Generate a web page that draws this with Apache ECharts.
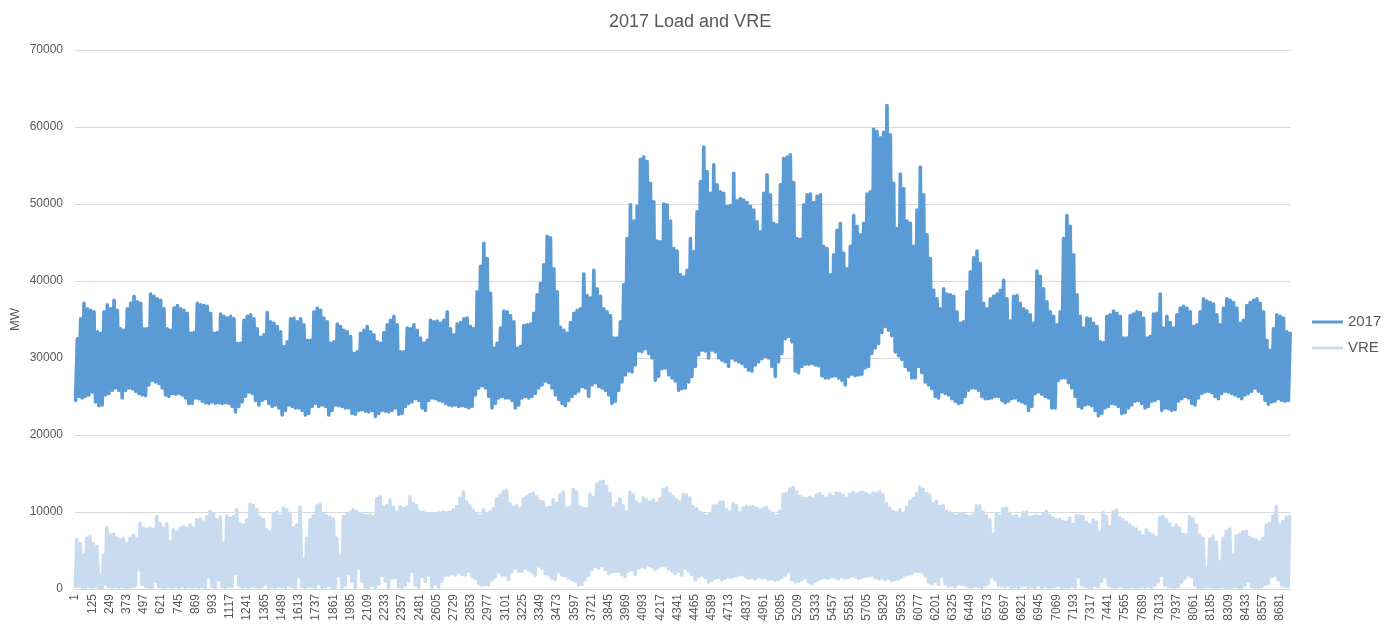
<!DOCTYPE html>
<html lang="en">
<head>
    <meta charset="UTF-8">
    <title>2017 Load and VRE</title>
    <script type="text/javascript" src="https://cdn.jsdelivr.net/npm/echarts@6/dist/echarts.min.js"></script>
    <style>
        html, body { margin: 0; padding: 0; background: #fff; }
    </style>
</head>
<body>
<div id="load_vre_chart" style="height:625px;width:1387px;"></div>
</body>

<script type="text/javascript">

    // daily peak / trough of the hourly load (MW), day 0 = Jan 1
    var loadHigh = [
        32500,35100,37100,36400,36200,36000,33400,33200,36000,36900,
        36400,37500,36200,33800,33600,36400,37100,38000,37300,37100,
        33800,33800,38300,38000,37700,37500,36400,33800,33600,36500,
        36800,36400,36200,35800,33200,33300,37100,36900,36800,36700,
        35800,33200,33300,35700,35400,35200,35400,35100,31900,31900,
        34900,35400,35600,35100,33800,32700,33000,35900,34700,34500,
        34100,33400,31500,32100,35100,35200,34700,35100,34300,32300,
        32300,36000,36500,36200,35200,34700,31900,32100,34400,34100,
        33600,33400,32800,30600,30800,33200,33600,34100,33400,33000,
        32100,31900,33300,34300,34900,35400,34300,30800,30800,33900,
        33800,34300,33600,32600,31900,32300,34900,34700,34800,34500,
        34900,36000,33800,33000,34400,34600,35100,35200,34100,33800,
        38600,41900,44900,42900,38400,31300,31900,33900,36100,36000,
        35500,34700,31300,31500,34200,34300,34400,35800,38200,39700,
        42100,45800,45600,41600,38600,34000,33600,33200,34600,35800,
        36200,36400,40900,38100,37800,41400,39000,38000,36400,36000,
        35500,32600,32600,34700,39500,45500,49900,47800,49700,55800,
        56100,55500,52700,50300,45200,45100,50000,49900,47800,44200,
        43900,40800,40500,41400,45500,43800,49000,52900,57400,54200,
        51400,55100,52500,51600,51400,49700,49800,54000,50400,50700,
        50500,50200,49700,49200,47700,46400,51400,53800,51200,47500,
        47300,52500,55900,56100,56400,52800,45500,45400,49900,51200,
        51300,50200,51000,51200,44500,44200,40800,43400,46600,47500,
        43600,41600,44500,48500,47100,46000,47500,51300,51600,59700,
        59400,58600,59300,62800,59000,52700,46800,53900,52000,47800,
        47500,44500,49200,54800,51200,46000,42900,38800,37700,36400,
        39000,38300,38200,38000,36000,34500,34700,38600,41200,43000,
        43900,42300,37100,36400,37700,38000,38300,38800,40100,37700,
        34800,38000,38100,37100,36400,36100,35600,34500,41300,40600,
        39000,37300,36000,35400,34300,36000,45500,48500,47100,43400,
        38200,35400,33900,35200,35100,34500,34100,32100,32000,35400,
        35600,36100,35800,35400,32600,32600,35500,35700,36000,35900,
        35200,32600,32800,35700,35800,38300,33900,35400,34600,33900,
        35600,36500,36700,36500,36000,34100,34300,36000,37700,37400,
        37200,37000,35600,34300,36500,37700,37500,37200,36500,34500,
        34900,36800,37200,37500,37700,37100,36000,32300,31000,33800,
        35600,35400,35200,33400,33200
    ];
    var loadLow = [
        24500,25000,24800,25000,25200,25600,24300,23800,23900,25200,
        25400,25800,26100,25800,24800,25800,26100,26000,25700,25400,
        25200,25100,26500,27100,26900,26700,26100,25200,25000,25400,
        25300,25400,25200,24800,24100,24100,24800,24700,24400,24200,
        24100,24300,24100,24200,24100,24200,24100,23700,23000,23700,
        24300,25000,25600,25400,24500,23900,24500,24700,24100,23700,
        23900,23500,22600,23200,23900,23700,23500,23500,23200,22600,
        22800,23700,24100,23700,23900,23700,22600,23200,23900,23800,
        23700,23500,23500,22800,22700,23200,23300,23100,23000,23200,
        22400,22800,23200,23100,23000,23200,23500,22700,22800,23700,
        24100,24300,24700,24500,23500,23200,24500,24800,24700,24500,
        24400,24100,23900,23800,23900,23700,23800,23700,23500,23700,
        25200,26100,26400,26100,25000,23500,24100,24800,25000,24800,
        24800,24500,23500,23900,24800,25000,24800,25000,25400,26100,
        26500,27000,26800,26100,25200,24600,24100,23800,24500,25000,
        25400,25700,26300,26100,25000,26500,26800,26300,26100,25800,
        25200,24100,24400,25800,26900,27800,28300,28200,29100,30900,
        30800,31200,30600,30000,27100,27600,28600,28700,27800,27400,
        27000,25800,26000,26100,26900,27600,28900,30400,31000,30900,
        30000,31000,30800,30000,29700,29500,28900,30000,29700,29500,
        29300,28900,28400,28300,29100,29500,29900,30200,30000,28900,
        27600,29500,30600,32500,32800,32100,28300,28100,28900,29200,
        29200,29300,29100,29000,27700,27400,27400,27600,27700,27400,
        27100,26500,27600,27900,27700,27800,27900,28700,28900,30600,
        31300,31900,33300,34100,33600,32900,30800,30300,29800,28900,
        28400,27400,27400,28900,28100,26900,26500,26000,25000,24800,
        25600,25400,25200,24700,24400,24100,24200,25000,25800,26100,
        26100,25800,25000,24700,24700,24800,25000,25000,24500,24200,
        24400,24700,24800,24500,24300,24100,23200,23700,25400,25600,
        25300,25000,24800,23500,23500,27100,27400,27400,26800,26100,
        25000,23700,23500,23900,24000,23800,23200,22500,22800,23500,
        23700,24100,24000,23700,22800,22900,23500,23900,24400,24500,
        24100,23500,23700,24400,24500,24700,23200,23500,23400,23200,
        23300,24400,24700,25000,24800,24100,23900,24800,25400,25600,
        25700,25500,25000,24700,25400,25700,25600,25400,25200,25000,
        24700,25200,25400,25700,26100,25700,25400,24500,24000,24300,
        24400,24700,24500,24400,24500
    ];

    // daily high / low of the VRE output (MW)
    var vreHigh = [
        6400,5900,4400,6600,6800,5900,5500,1800,4400,8000,
        7000,7100,6600,6400,6600,5900,6600,7000,6600,8500,
        7900,7800,7900,7800,9400,8500,7900,8500,6100,7700,
        7400,7900,8100,7900,8300,7900,9000,9100,8700,9400,
        10100,9800,9000,9300,5900,9500,9200,9400,10300,8500,
        8300,9000,11000,10800,10300,9300,9000,7700,7400,9800,
        10000,9500,10500,10300,9700,7900,8300,10600,3800,6600,
        9000,9500,10800,11000,9800,9500,9300,9100,6600,4200,
        9400,9700,10000,10300,10100,9800,9600,9500,9600,9400,
        11700,12000,10600,10800,11600,10600,10000,10700,10500,10600,
        12000,11100,10800,10000,10000,9800,9700,9800,9800,9900,
        10000,9900,10000,10300,10700,11800,12600,11300,10800,10300,
        9800,9500,10300,9800,10000,10400,11700,12200,12700,12800,
        11100,10600,10800,10400,11700,12000,12300,12400,12000,11400,
        11300,10500,10600,11600,11100,12200,12600,10500,10600,12900,
        12600,10700,10500,10400,12300,11900,13600,13900,14000,13300,
        12400,10500,11100,11700,10800,10000,12600,12200,11300,11000,
        11800,11600,11300,11600,11100,11700,12900,13100,12400,12000,
        11600,11300,12300,12200,11800,10700,10400,10000,9700,9500,
        9700,10800,10800,11300,11300,10300,10000,11100,10800,9900,
        10500,10700,10600,10700,10500,10300,10400,10600,10100,9800,
        9500,10100,12300,12400,13000,13200,12600,12000,11800,11700,
        11900,11700,12200,12400,12000,11800,12300,12000,12500,12400,
        12200,11800,12300,12600,12300,12500,12600,12400,12200,12500,
        12400,12600,12200,11100,10500,10100,9900,10300,9800,10600,
        11400,11700,12400,13200,12900,12400,12200,11100,11400,10700,
        10800,10100,9900,9700,9500,9700,9800,9500,9400,9600,
        10800,10800,10000,9500,9000,7100,9800,9500,10400,10500,
        9700,9400,9500,9100,9900,10000,9300,9400,9500,9400,
        9800,10100,9500,9200,9000,9100,8800,8700,9200,8400,
        9500,9500,9400,8700,8400,9000,8700,7400,9900,9400,
        8100,10000,10300,9200,9000,8700,8300,8000,7800,7400,
        6900,7700,7200,7000,6700,9300,9400,9000,8500,7900,
        8300,7900,7100,7000,9400,9100,8300,7000,6600,2700,
        6500,6800,6100,3500,6600,7500,7800,4400,6900,7100,
        7400,7500,6700,6500,6400,6100,6600,8300,8500,9500,
        10700,8300,8800,9300,9400
    ];
    var vreLow = [
        300,400,200,200,300,200,300,200,100,600,
        300,200,300,200,300,200,200,300,400,2500,
        600,300,200,200,1000,300,200,200,300,200,
        300,200,400,200,300,200,300,200,300,200,
        1600,300,200,1200,300,200,400,300,2000,500,
        200,300,200,400,300,200,300,600,200,300,
        200,400,300,200,500,300,200,1600,300,200,
        400,300,200,700,200,300,500,200,200,1800,
        200,500,2000,1000,200,2700,1000,200,200,500,
        200,700,1800,1000,200,1400,1500,300,200,500,
        1000,2300,500,200,1600,1000,1800,200,700,200,
        1000,1800,1800,2000,1800,2200,1900,1800,2300,1600,
        1400,700,500,600,500,1200,1600,2200,1800,1800,
        1200,2200,2700,2300,2300,2700,2500,2200,1800,3000,
        2700,2000,1800,1400,1200,2200,1800,1700,1400,1200,
        1000,500,600,1200,1800,2500,2900,2700,3100,2500,
        2000,2200,2300,2300,1900,1600,2300,2500,1900,2700,
        2900,2800,3100,2900,2500,2800,3100,3000,2600,2300,
        2000,2300,1800,2700,2300,1900,1200,1600,1800,1500,
        900,1100,1400,1500,1200,1400,1600,1500,1700,1800,
        1900,1600,1400,1500,1300,1600,1400,1500,1200,1300,
        1100,1200,1500,1800,2200,1200,900,1000,1200,1500,
        900,700,1000,1200,1400,1500,1400,1600,1500,1300,
        1600,1400,1500,1700,1600,1400,1500,1600,1700,1800,
        1500,1300,1400,1200,1400,1100,1200,1300,1500,1800,
        1900,2000,2300,2300,2200,1800,900,700,1000,600,
        1600,700,400,500,300,700,600,500,300,200,
        400,300,200,500,700,1500,1200,500,400,300,
        500,200,300,200,400,500,200,300,200,500,
        200,400,200,200,300,500,200,300,200,400,
        200,1600,500,300,200,200,500,300,1000,1600,
        500,300,200,300,400,200,200,300,200,200,
        300,200,400,200,500,900,1800,500,300,200,
        200,300,900,1400,1800,1600,500,200,200,200,
        300,200,200,200,300,200,200,200,300,200,
        200,500,1000,300,200,200,300,600,700,1600,
        1800,1200,500,400,300
    ];

    var yTicks = [0, 10000, 20000, 30000, 40000, 50000, 60000, 70000];

    // hour categories 1..8760, a label every 124 hours
    var hours = [];
    for (var h = 1; h <= 8760; h++) {
        hours.push(String(h));
    }

    // each day: trough in the night, peak in the afternoon (x = hour index)
    var loadData = [];
    var vreData = [];
    for (var d = 0; d < loadHigh.length; d++) {
        loadData.push([24 * d + 4, loadLow[d]]);
        loadData.push([24 * d + 17, loadHigh[d]]);
        vreData.push([24 * d + 3, vreLow[d]]);
        vreData.push([24 * d + 13, vreHigh[d]]);
    }

    var myChart = echarts.init(document.getElementById('load_vre_chart'));

    var option = {
        animation: false,
        textStyle: { fontFamily: 'Liberation Sans, Arial, sans-serif' },
        title: {
            text: '2017 Load and VRE',
            left: 604,
            top: 8,
            textStyle: { fontSize: 18, fontWeight: 'normal', color: '#595959' }
        },
        legend: {
            orient: 'vertical',
            left: 1312,
            top: 314,
            padding: 0,
            itemWidth: 31,
            itemHeight: 3,
            itemGap: 10,
            itemTextGap: 1,
            data: [
                { name: '2017', icon: 'rect' },
                { name: 'VRE', icon: 'rect' }
            ],
            textStyle: { fontSize: 15, lineHeight: 16, color: '#595959' }
        },
        grid: {
            left: 75,
            right: 96,
            top: 50,
            bottom: 36,
            outerBoundsMode: 'none'
        },
        xAxis: {
            type: 'category',
            data: hours,
            boundaryGap: false,
            axisLine: { lineStyle: { color: '#d9d9d9' } },
            axisTick: { show: false },
            axisLabel: {
                interval: 123,
                rotate: 90,
                margin: 5,
                fontSize: 12,
                color: '#595959'
            },
            splitLine: { show: false }
        },
        yAxis: {
            type: 'value',
            min: yTicks[0],
            max: yTicks[yTicks.length - 1],
            interval: yTicks[1] - yTicks[0],
            name: 'MW',
            nameLocation: 'middle',
            nameGap: 53,
            nameMoveOverlap: false,
            nameTextStyle: { fontSize: 13, color: '#595959' },
            axisLine: { show: false },
            axisTick: { show: false },
            axisLabel: {
                fontSize: 12,
                color: '#595959',
                margin: 12,
                formatter: function (v) { return String(v); }
            },
            splitLine: { lineStyle: { color: '#d9d9d9', width: 1 } }
        },
        series: [
            {
                name: '2017',
                type: 'line',
                data: loadData,
                showSymbol: false,
                symbol: 'none',
                color: '#5b9bd5',
                lineStyle: { color: '#5b9bd5', width: 3.6, join: 'round', cap: 'round' }
            },
            {
                name: 'VRE',
                type: 'line',
                data: vreData,
                showSymbol: false,
                symbol: 'none',
                color: '#c9dcef',
                lineStyle: { color: '#c9dcef', width: 3.6, join: 'round', cap: 'round' }
            }
        ]
    };

    myChart.setOption(option);

</script>
</html>
